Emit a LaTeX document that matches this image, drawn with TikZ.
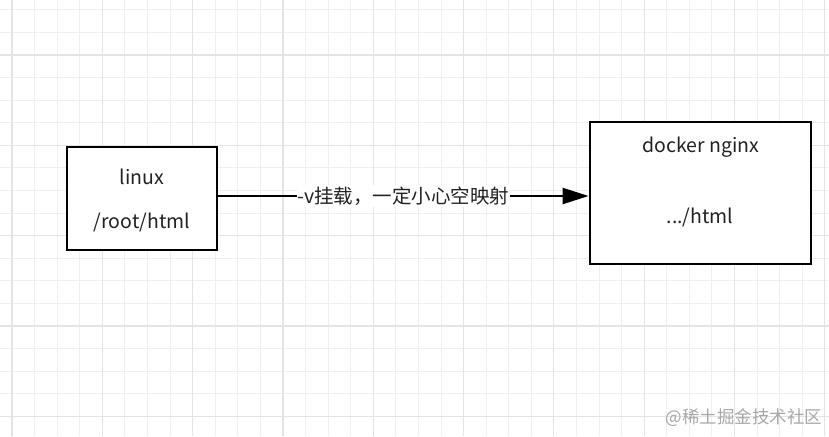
\documentclass[tikz,border=0pt]{standalone}
\usepackage{fontspec}
\newfontfamily\cjk{Noto Sans CJK SC}
\usetikzlibrary{arrows.meta, positioning}
\definecolor{gridminor}{HTML}{EFEFEF}
\definecolor{gridmajor}{HTML}{E4E4E4}
\definecolor{markgray}{HTML}{A8A8A8}
\definecolor{inktext}{HTML}{222222}

\begin{document}
\begin{tikzpicture}[
    x=1pt, y=-1pt,
    every node/.style={font=\cjk\fontsize{19.5}{23}\selectfont, text=inktext, inner sep=0pt},
    minorline/.style={draw=gridminor, line width=1pt},
    majorline/.style={draw=gridmajor, line width=1.2pt},
    box/.style={draw, fill=white, rectangle, line width=2.8pt},
    link/.style={line width=2.2pt, -{Triangle[length=26pt, width=16pt]}},
    edgelabel/.style={fill=white, inner xsep=1pt, inner ysep=2pt}
]
\useasboundingbox (0,0) rectangle (829,436);
\fill[white] (0,0) rectangle (829,436);

% Grid
\foreach \k in {0,...,36}
    \draw[minorline] ({12+22.58*\k},0) -- ++(0,436);
\foreach \k in {0,...,19}
    \draw[minorline] (0,{9.8+22.58*\k}) -- ++(829,0);
\foreach \k in {0,...,9}
    \draw[majorline] ({12+90.3*\k},0) -- ++(0,436);
\foreach \k in {0,...,4}
    \draw[majorline] (0,{55+90.3*\k}) -- ++(829,0);

% Host side
\node[box, minimum width=150, minimum height=103] (linux) at (142,198.5) {};
\node (linuxname) at (142,177) {linux};
\node (linuxpath) at (142,222) {/root/html};

% Container side
\node[box, minimum width=221, minimum height=142] (docker) at (700.5,193) {};
\node (dockername) at (701,147) {docker nginx};
\node (dockerpath) at (700,217) {.../html};

% Volume mount
\draw[link] ([yshift=2.5pt]linux.east) -- node[edgelabel] (mount) {-v挂载，一定小心空映射} ([yshift=-3pt]docker.west);

% Watermark
\node[text=markgray, font=\cjk\fontsize{17.5}{20}\selectfont] (mark) at (744,418) {@稀土掘金技术社区};
\end{tikzpicture}
\end{document}
